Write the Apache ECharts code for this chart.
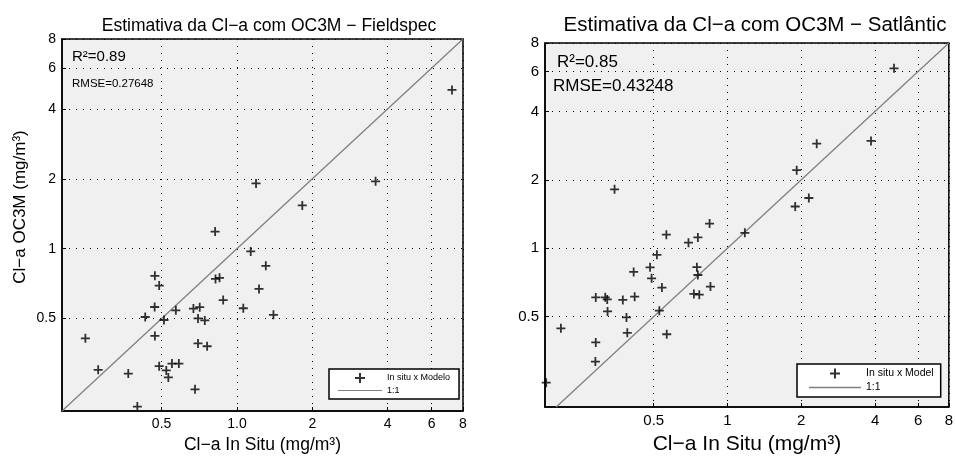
<!DOCTYPE html>
<html>
<head>
<meta charset="utf-8">
<script src="https://cdn.jsdelivr.net/npm/echarts@6/dist/echarts.min.js"></script>
<style>
  html, body { margin: 0; padding: 0; background: #fff; }
  #chart { width: 956px; height: 460px; }
</style>
</head>
<body>
<div id="chart"></div>
<script>
// Fieldspec panel (in situ x modelled Cl-a, mg/m3)
const insituFS = [0.470, 0.489, 0.469, 0.430, 0.511, 0.570, 0.670, 0.710, 0.699, 0.744, 0.470, 0.248,
  0.699, 0.760, 0.279, 0.368, 0.489, 0.522, 0.532, 0.550, 0.586, 0.680, 0.400, 0.818,
  1.135, 1.304, 0.821, 0.852, 1.225, 0.881, 1.060, 1.399, 1.192, 1.824, 3.58, 7.23]
const modelFS = [0.764, 0.694, 0.561, 0.508, 0.493, 0.543, 0.552, 0.560, 0.501, 0.491, 0.421, 0.411,
  0.391, 0.380, 0.301, 0.290, 0.312, 0.299, 0.279, 0.320, 0.320, 0.248, 0.209, 1.185,
  0.973, 0.844, 0.741, 0.749, 0.671, 0.601, 0.554, 0.519, 1.911, 1.536, 1.95, 4.83]

// Satlantic panel
const insituSat = [0.563, 0.515, 0.414, 0.483, 0.490, 0.540, 0.290, 0.317, 0.323, 0.374, 0.418, 0.324,
  0.387, 0.527, 0.209, 0.390, 0.565, 0.290, 0.289, 0.182, 0.845, 0.693, 0.757, 1.177,
  0.750, 0.757, 0.852, 0.729, 0.767, 0.346, 1.916, 2.312, 2.147, 1.889, 3.851, 4.780]
const modelSat = [1.147, 0.935, 0.786, 0.824, 0.737, 0.671, 0.607, 0.608, 0.595, 0.592, 0.612, 0.527,
  0.496, 0.531, 0.444, 0.424, 0.418, 0.385, 0.317, 0.256, 1.283, 1.057, 1.115, 1.169,
  0.825, 0.762, 0.678, 0.629, 0.624, 1.816, 2.204, 2.883, 1.663, 1.526, 2.965, 6.19]

const tickValues = [0.5, 1, 2, 4, 6, 8]
const oneToOne = [0.2, 8]

const FONT = 'Liberation Sans, Arial, sans-serif'
const PLUS = 'path://M4,0H6V4H10V6H6V10H4V6H0V4H4Z'
const LINE_ICON = 'path://M0,0H40V1H0Z'

const toPairs = (xs, ys) => xs.map((x, i) => [x, ys[i]])

const logAxis = (gridIndex, min, fontSize, fmt, extra) => Object.assign({
  type: 'log',
  gridIndex,
  min,
  max: 8,
  logBase: 10,
  axisLine: { show: true, lineStyle: { color: '#000', width: 1.5 } },
  axisTick: { show: true, inside: true, length: 4, customValues: tickValues, lineStyle: { color: '#000' } },
  axisLabel: { customValues: tickValues, color: '#000', fontFamily: FONT, fontSize, margin: 6, formatter: fmt },
  splitLine: { show: true, lineStyle: { color: '#000', width: 1, type: [1, 6] } },
  minorTick: { show: false },
  minorSplitLine: { show: false }
}, extra || {})

const legendBox = {
  orient: 'vertical',
  itemGap: 3,
  itemHeight: 10,
  backgroundColor: '#fff',
  borderColor: '#000',
  borderWidth: 1.5,
  borderRadius: 0,
  selectedMode: false
}

const chartRef = document.getElementById('chart')
const chart = echarts.init(chartRef)

const option = {
  animation: false,
  backgroundColor: '#fff',
  title: [
    {
      text: 'Estimativa da Cl−a com OC3M − Fieldspec',
      left: 264, top: 12, textAlign: 'center',
      textStyle: { fontFamily: FONT, fontSize: 17.5, fontWeight: 'normal', color: '#000' }
    },
    {
      text: 'Estimativa da Cl−a com OC3M − Satlântic',
      left: 750, top: 10, textAlign: 'center',
      textStyle: { fontFamily: FONT, fontSize: 20.5, fontWeight: 'normal', color: '#000' }
    }
  ],
  grid: [
    { left: 62, top: 39, width: 401, height: 372, show: true, backgroundColor: '#f0f0f0', borderColor: '#000', borderWidth: 1.5 },
    { left: 545, top: 43, width: 408, height: 367, show: true, backgroundColor: '#f0f0f0', borderColor: '#000', borderWidth: 1.5 }
  ],
  xAxis: [
    logAxis(0, 0.2, 14, v => (v === 1 ? '1.0' : String(v)), {
      name: 'Cl−a In Situ (mg/m³)', nameLocation: 'middle', nameGap: 22,
      nameTextStyle: { fontFamily: FONT, fontSize: 17.5, color: '#000' }
    }),
    logAxis(1, 0.18, 15, v => String(v), {
      name: 'Cl−a In Situ (mg/m³)', nameLocation: 'middle', nameGap: 27,
      nameTextStyle: { fontFamily: FONT, fontSize: 21, color: '#000' }
    })
  ],
  yAxis: [
    logAxis(0, 0.2, 14, v => String(v), {
      name: 'Cl−a OC3M (mg/m³)', nameLocation: 'middle', nameGap: 33,
      nameTextStyle: { fontFamily: FONT, fontSize: 17, color: '#000', padding: [0, 0, 0, 36] }
    }),
    logAxis(1, 0.2, 15, v => String(v))
  ],
  legend: [
    Object.assign({}, legendBox, {
      left: 329, top: 369,
      data: [{ name: 'In situ x Modelo' }, { name: '1:1', icon: LINE_ICON, itemStyle: { color: '#808080' } }],
      itemWidth: 44,
      padding: [4, 9, 4, 9],
      textStyle: { fontFamily: FONT, fontSize: 9, color: '#000' }
    }),
    Object.assign({}, legendBox, {
      left: 797, top: 364,
      data: [{ name: 'In situ x Model' }, { name: '1:1', icon: LINE_ICON, itemStyle: { color: '#808080' } }],
      itemWidth: 52,
      padding: [4, 7, 4, 12],
      textStyle: { fontFamily: FONT, fontSize: 10.5, color: '#000' }
    })
  ],
  graphic: [
    { type: 'text', left: 72, top: 49, style: { text: 'R²=0.89', font: '15px ' + FONT, fill: '#000' } },
    { type: 'text', left: 72, top: 78, style: { text: 'RMSE=0.27648', font: '11.5px ' + FONT, fill: '#000' } },
    { type: 'text', left: 557, top: 54, style: { text: 'R²=0.85', font: '17px ' + FONT, fill: '#000' } },
    { type: 'text', left: 553, top: 78, style: { text: 'RMSE=0.43248', font: '17px ' + FONT, fill: '#000' } }
  ],
  series: [
    {
      name: '1:1', type: 'line', xAxisIndex: 0, yAxisIndex: 0,
      data: toPairs(oneToOne, oneToOne), symbol: 'none',
      itemStyle: { color: '#808080' },
      lineStyle: { color: '#808080', width: 1.3 }, z: 2
    },
    {
      name: 'In situ x Modelo', type: 'scatter', xAxisIndex: 0, yAxisIndex: 0,
      data: toPairs(insituFS, modelFS), symbol: PLUS, symbolSize: 9,
      itemStyle: { color: '#000' }, z: 3
    },
    {
      name: '1:1', type: 'line', xAxisIndex: 1, yAxisIndex: 1,
      data: toPairs(oneToOne, oneToOne), symbol: 'none',
      itemStyle: { color: '#808080' },
      lineStyle: { color: '#808080', width: 1.3 }, z: 2
    },
    {
      name: 'In situ x Model', type: 'scatter', xAxisIndex: 1, yAxisIndex: 1,
      data: toPairs(insituSat, modelSat), symbol: PLUS, symbolSize: 9,
      itemStyle: { color: '#000' }, z: 3
    }
  ]
}

chart.setOption(option)
</script>
</body>
</html>
